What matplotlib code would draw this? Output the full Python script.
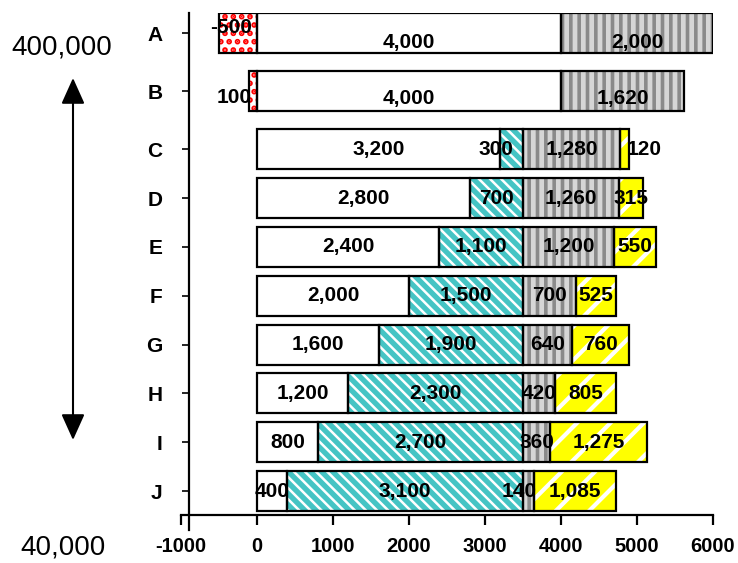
import numpy as np
import matplotlib
matplotlib.use("Agg")
import matplotlib.pyplot as plt

plt.rcParams["font.family"] = ["Liberation Sans", "DejaVu Sans"]

# =========================
# data
# =========================
categories = ["A", "B", "C", "D", "E", "F", "G", "H", "I", "J"]
neg_vals = [-500, -100, 0, 0, 0, 0, 0, 0, 0, 0]
neg_text = ["-500", "100"]
white_vals = [4000, 4000, 3200, 2800, 2400, 2000, 1600, 1200, 800, 400]
cyan_vals = [0, 0, 300, 700, 1100, 1500, 1900, 2300, 2700, 3100]
gray_vals = [2000, 1620, 1280, 1260, 1200, 700, 640, 420, 360, 140]
yellow_vals = [0, 0, 120, 315, 550, 525, 760, 805, 1275, 1085]
x_ticks = [-1000, 0, 1000, 2000, 3000, 4000, 5000, 6000]

# =========================
# layout
# =========================
ypos = np.array([0, 1.19, 2.38, 3.38, 4.38, 5.38, 6.38, 7.38, 8.38, 9.38])
bar_h = 0.82
label_dy = [0.2, 0.15, 0, 0, 0, 0, 0, 0, 0, 0]
neg_dy = [-0.12, 0.14]
# small label nudges (category index, segment) -> dx in data units
nudge = {(2, "cyan"): -210, (2, "yellow"): 260, (9, "gray"): -120}

fig = plt.figure(figsize=(7.38, 5.63), dpi=100)
ax = fig.add_axes([181 / 738, 1 - 515 / 563, 532 / 738, 502 / 563])

neg = np.array(neg_vals)
w = np.array(white_vals)
c = np.array(cyan_vals)
g = np.array(gray_vals)
yl = np.array(yellow_vals)

segments = [
    # name, left, width, face, hatch colour, hatch, hatch lw
    ("neg", np.zeros(10), neg, "white", "#ff0000", "..", 2.8),
    ("white", np.zeros(10), w, "white", "white", None, 1.0),
    ("cyan", w, c, "#45c4c4", "white", "\\\\\\", 1.8),
    ("gray", w + c, g, "#d6d6d6", "#8a8a8a", "||", 2.6),
    ("yellow", w + c + g, yl, "#ffff00", "white", "/", 3.0),
]

# fills first
for name, left, width, face, hc, hatch, hlw in segments:
    m = width != 0
    with plt.rc_context({"hatch.linewidth": hlw}):
        ax.barh(ypos[m], width[m], left=left[m], height=bar_h,
                color=face, edgecolor=hc, hatch=hatch, linewidth=0)

# borders on top
for name, left, width, face, hc, hatch, hlw in segments:
    m = width != 0
    ax.barh(ypos[m], width[m], left=left[m], height=bar_h,
            fill=False, edgecolor="black", linewidth=1.6)

# value labels
for name, left, width, face, hc, hatch, hlw in segments:
    if name == "neg":
        continue
    for i in range(10):
        if width[i] == 0:
            continue
        xc = left[i] + width[i] / 2 + nudge.get((i, name), 0)
        ax.text(xc, ypos[i] + label_dy[i], f"{width[i]:,}",
                ha="center", va="center", fontsize=15, fontweight="bold")

for i, t in enumerate(neg_text):
    ax.text(-70, ypos[i] + neg_dy[i], t, ha="right", va="center",
            fontsize=15, fontweight="bold")

# axes styling
ax.set_xlim(-1000, 6000)
ax.set_ylim(9.87, -0.41)
ax.set_xticks(x_ticks)
ax.set_xticklabels([str(v) for v in x_ticks])
ax.set_yticks(ypos)
ax.set_yticklabels(categories)

ax.spines["top"].set_visible(False)
ax.spines["right"].set_visible(False)
ax.spines["bottom"].set_linewidth(1.6)
ax.spines["left"].set_linewidth(1.6)
ax.spines["left"].set_position(("data", -895))
ax.spines["left"].set_bounds(10.18, -0.41)

ax.tick_params(axis="x", direction="out", length=7, width=1.6, pad=9,
               labelsize=14.5)
ax.tick_params(axis="y", direction="out", length=5, width=1.2, pad=14,
               labelsize=15)
for lab in ax.get_xticklabels() + ax.get_yticklabels():
    lab.set_fontweight("bold")

# left-hand scale note with a double arrow
fig.text(62 / 738, 1 - 48 / 563, "400,000", fontsize=20, ha="center", va="center")
fig.text(63 / 738, 1 - 548 / 563, "40,000", fontsize=20, ha="center", va="center")
ax.annotate("", xy=(73 / 738, 1 - 78 / 563), xytext=(73 / 738, 1 - 440 / 563),
            xycoords="figure fraction", textcoords="figure fraction",
            arrowprops=dict(arrowstyle="<|-|>,head_length=0.8,head_width=0.36",
                            mutation_scale=20, lw=1.5, color="black",
                            shrinkA=0, shrinkB=0))

fig.savefig("out.png", dpi=100)
